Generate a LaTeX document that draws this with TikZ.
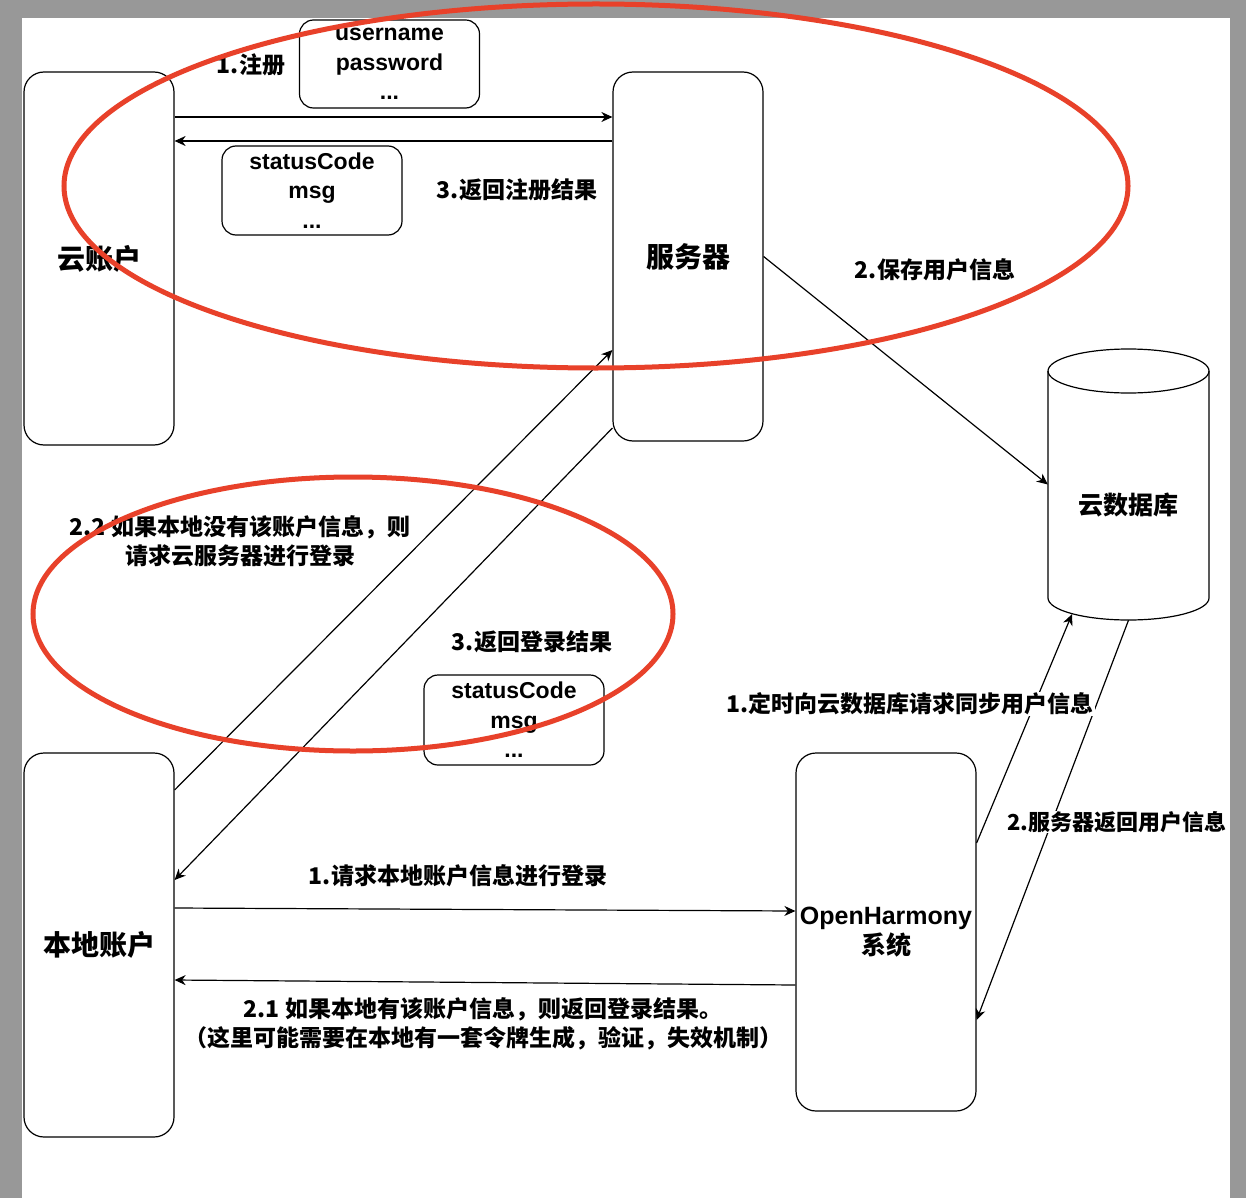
\documentclass[tikz,border=0pt]{standalone}
\usepackage{fontspec}
\setmainfont{Liberation Sans}
\newfontfamily\cjk{Noto Sans CJK SC}
\usetikzlibrary{arrows.meta,calc}
\definecolor{pagegray}{RGB}{152,152,152}
\definecolor{markred}{RGB}{232,65,42}

\begin{document}
\begin{tikzpicture}[x=1pt,y=-1pt,
  lane/.style={draw, line width=1.2pt, rounded corners=20pt, fill=white,
    align=center, inner sep=0pt, minimum width=150pt,
    font=\cjk\bfseries\fontsize{28}{34}\selectfont},
  databox/.style={draw, line width=1.2pt, rounded corners=14pt, fill=white,
    align=center, inner sep=0pt, minimum width=180pt, minimum height=89pt,
    font=\bfseries\fontsize{23}{29.5}\selectfont},
  msg/.style={fill=white, inner sep=1pt, align=center,
    font=\cjk\bfseries\fontsize{23}{29}\selectfont},
  conn/.style={draw, line width=1.2pt,
    -{Stealth[length=11pt,width=10pt,inset=3.5pt]}},
  ring/.style={draw=markred, line width=5pt}]

\useasboundingbox (0,0) rectangle (1246,1198);
% page sheet on a gray backdrop
\fill[pagegray] (0,0) rectangle (1246,1198);
\fill[white] (22,18) rectangle (1230,1198);

% participants
\node[lane, minimum height=373pt] (cloud)  at (99,258.5) {云账户};
\node[lane, minimum height=369pt] (server) at (688,256.5) {服务器};
\node[lane, minimum height=384pt] (local)  at (99,945) {本地账户};
\node[lane, minimum width=180pt, minimum height=358pt,
      font=\bfseries\fontsize{25}{30}\selectfont] (oh) at (886,932)
      {OpenHarmony\\{\cjk 系统}};

% cloud database cylinder
\filldraw[fill=white, line width=1.2pt]
  (1048,371) -- (1048,598)
  arc[start angle=180, end angle=360, x radius=80.5pt, y radius=22pt]
  -- (1209,371);
\draw[line width=1.2pt] (1128.5,371) ellipse [x radius=80.5pt, y radius=22pt];
\node[inner sep=0pt, minimum width=161pt, minimum height=271pt] (db) at (1128.5,484.5) {};
\node[font=\cjk\bfseries\fontsize{25}{30}\selectfont] (dbname) at (1128,505) {云数据库};

% message payloads
\node[databox, minimum height=88pt] (regdata) at (389.5,64) {username\\password\\...};
\node[databox] (regres) at (312,190.5) {statusCode\\msg\\...};
\node[databox, minimum height=90pt] (loginres) at (514,720) {statusCode\\msg\\...};

% registration exchange
\draw[conn] ([yshift=141.5pt]cloud.east) -- ([yshift=139.5pt]server.west);
\draw[conn] ([yshift=115.5pt]server.west) -- ([yshift=117.5pt]cloud.east);
\draw[conn] (server.east) -- (db.west);

% login through the cloud server
\draw[conn] ([yshift=155pt]local.east) -- ([yshift=-93.5pt]server.west);
\draw[conn] ([yshift=-171.5pt]server.west) -- ([yshift=65pt]local.east);

% local login
\draw[conn] ([yshift=37pt]local.east) -- ([yshift=21pt]oh.west);
\draw[conn] ([yshift=-53pt]oh.west) -- ([yshift=-35pt]local.east);

% synchronisation with the cloud database
\draw[conn] ([yshift=89pt]oh.east) -- ($(db.south)+(-56.5,-6)$);
\draw[conn] (db.south) -- ([yshift=-88pt]oh.east);

% step labels
\node[msg] (lreg)   at (251,65)  {1.注册};
\node[msg] (lregok) at (517,190) {3.返回注册结果};
\node[msg] (lsave)  at (935,270) {2.保存用户信息};
\node[msg, fill=none] (lask) at (240,541.5) {2.2 如果本地没有该账户信息，则\\请求云服务器进行登录};
\node[msg] (lback)  at (532,642) {3.返回登录结果};
\node[msg] (lloc)   at (458,876) {1.请求本地账户信息进行登录};
\node[msg] (lres)   at (483,1024) {2.1 如果本地有该账户信息，则返回登录结果。\\（这里可能需要在本地有一套令牌生成，验证，失效机制）};
\node[msg] (lsync)  at (910,704) {1.定时向云数据库请求同步用户信息};
\node[msg, inner sep=0pt, font=\cjk\bfseries\fontsize{22}{28}\selectfont]
  (lret) at (1117,822) {2.服务器返回用户信息};

% hand-drawn highlight rings
\draw[ring] (596,186) ellipse [x radius=532pt, y radius=182pt];
\draw[ring] (353,614) ellipse [x radius=320pt, y radius=137pt];
\end{tikzpicture}
\end{document}
